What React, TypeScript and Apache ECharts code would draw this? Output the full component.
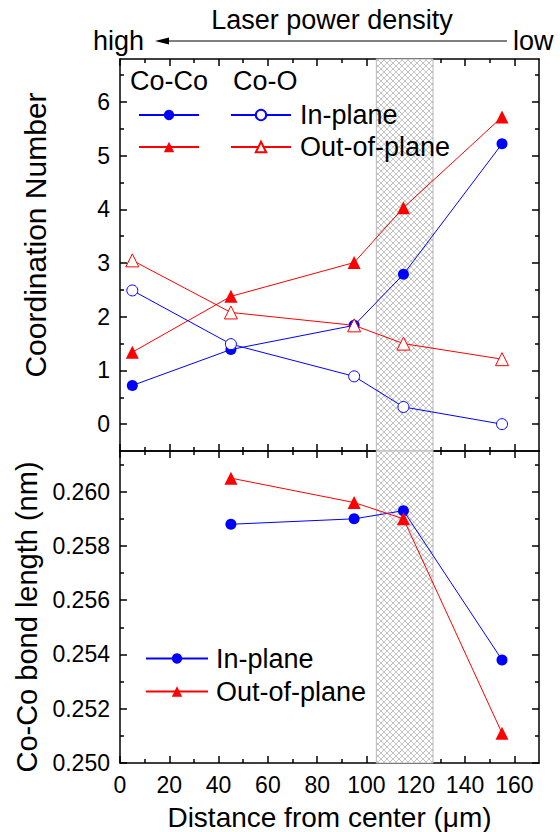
import React, { useEffect, useRef } from 'react';
import * as echarts from 'echarts';

// ---------- data ----------
const distances = [5, 45, 95, 115, 155];
const coCoInPlane = [0.72, 1.39, 1.84, 2.79, 5.22];
const coCoOutOfPlane = [1.34, 2.38, 3.01, 4.03, 5.72];
const coOInPlane = [2.49, 1.49, 0.89, 0.32, 0.0];
const coOOutOfPlane = [3.05, 2.08, 1.84, 1.5, 1.21];

const bondDistances = [45, 95, 115, 155];
const bondInPlane = [0.2588, 0.259, 0.2593, 0.2538];
const bondOutOfPlane = [0.2605, 0.2596, 0.259, 0.2511];

const shadedRange = [104, 127];

const xMajorTicks = [0, 20, 40, 60, 80, 100, 120, 140, 160];
const xMinorTicks = [10, 30, 50, 70, 90, 110, 130, 150];
const cnMajorTicks = [0, 1, 2, 3, 4, 5, 6];
const cnMinorTicks = [0.5, 1.5, 2.5, 3.5, 4.5, 5.5, 6.5];
const blMajorTicks = [0.25, 0.252, 0.254, 0.256, 0.258, 0.26];
const blMinorTicks = [0.251, 0.253, 0.255, 0.257, 0.259, 0.261];

const FONT = "'Liberation Sans', Arial, Helvetica, sans-serif";
const BLUE = '#0000ff';
const RED = '#ff0000';

const zip = (xs: number[], ys: number[]) => xs.map((x, i) => [x, ys[i]]);

const lineBlack = { color: '#000', width: 1.5 };

function axisPair(
  gridIndex: number,
  position: string,
  min: number,
  max: number,
  major: number[],
  minor: number[],
  label: any,
  nameOpts: any
) {
  const base: any = {
    type: 'value',
    gridIndex,
    position,
    min,
    max,
    splitLine: { show: false },
  };
  return [
    {
      ...base,
      axisLine: { show: true, onZero: false, lineStyle: lineBlack },
      axisTick: { show: true, inside: true, length: 7, customValues: major, lineStyle: lineBlack },
      axisLabel: label
        ? { show: true, customValues: major, color: '#000', fontFamily: FONT, fontSize: 23, ...label }
        : { show: false },
      ...(nameOpts || {}),
    },
    {
      ...base,
      axisLine: { show: false, onZero: false },
      axisTick: { show: true, inside: true, length: 4, customValues: minor, lineStyle: lineBlack },
      axisLabel: { show: false },
    },
  ];
}

export default function App() {
  const ref = useRef<HTMLDivElement>(null);

  useEffect(() => {
    document.body.style.margin = '0';
    if (!ref.current) return;
    const chart = echarts.init(ref.current, undefined, { renderer: 'svg' });

    const c = document.createElement('canvas');
    c.width = 6;
    c.height = 6;
    const ctx = c.getContext('2d')!;
    ctx.fillStyle = '#ffffff';
    ctx.fillRect(0, 0, 6, 6);
    ctx.strokeStyle = '#c4c4c4';
    ctx.lineWidth = 1;
    ctx.beginPath();
    ctx.moveTo(0, 0);
    ctx.lineTo(6, 6);
    ctx.moveTo(6, 0);
    ctx.lineTo(0, 6);
    ctx.stroke();
    const hatch: any = { image: c, repeat: 'repeat', imageWidth: 6, imageHeight: 6 };

    const xNameStyle = { color: '#000', fontFamily: FONT, fontSize: 28 };

    const xAxes = [
      // grid 0 (top panel) : 0 bottom main, 1 bottom minor, 2 top main, 3 top minor
      ...axisPair(0, 'bottom', 0, 170, xMajorTicks, xMinorTicks, null, null),
      ...axisPair(0, 'top', 0, 170, xMajorTicks, xMinorTicks, null, null),
      // grid 1 (bottom panel) : 4..7
      ...axisPair(1, 'bottom', 0, 170, xMajorTicks, xMinorTicks, { margin: 10 }, {
        name: 'Distance from center (\u03bcm)',
        nameLocation: 'middle',
        nameGap: 40,
        nameTextStyle: xNameStyle,
      }),
      ...axisPair(1, 'top', 0, 170, xMajorTicks, xMinorTicks, null, null),
    ];

    const yAxes = [
      ...axisPair(0, 'left', -0.5, 6.8, cnMajorTicks, cnMinorTicks, { margin: 10 }, {
        name: 'Coordination Number',
        nameLocation: 'middle',
        nameGap: 70,
        nameRotate: 90,
        nameTextStyle: { color: '#000', fontFamily: FONT, fontSize: 30, padding: [0, 0, 0, 40] },
      }),
      ...axisPair(0, 'right', -0.5, 6.8, cnMajorTicks, cnMinorTicks, null, null),
      ...axisPair(1, 'left', 0.25, 0.2615, blMajorTicks, blMinorTicks, {
        margin: 10,
        formatter: (v: number) => v.toFixed(3),
      }, {
        name: 'Co-Co bond length (nm)',
        nameLocation: 'middle',
        nameGap: 70,
        nameRotate: 90,
        nameTextStyle: { color: '#000', fontFamily: FONT, fontSize: 29, padding: [0, 20, 0, 0] },
      }),
      ...axisPair(1, 'right', 0.25, 0.2615, blMajorTicks, blMinorTicks, null, null),
    ];

    const markArea = (color: any) => ({
      silent: true,
      itemStyle: { color, borderColor: '#b8b8b8', borderWidth: 1 },
      data: [[{ xAxis: shadedRange[0] }, { xAxis: shadedRange[1] }]],
    });

    const filled = (name: string, data: number[][], color: string, symbol: string, size: number, xi: number, yi: number, extra: any = {}) => ({
      name,
      type: 'line',
      xAxisIndex: xi,
      yAxisIndex: yi,
      data,
      symbol,
      symbolSize: size,
      lineStyle: { color, width: 1 },
      itemStyle: { color },
      emphasis: { disabled: true },
      ...extra,
    });
    const hollow = (name: string, data: number[][], color: string, symbol: string, size: number, xi: number, yi: number) => ({
      name,
      type: 'line',
      xAxisIndex: xi,
      yAxisIndex: yi,
      data,
      symbol,
      symbolSize: size,
      lineStyle: { color, width: 1 },
      itemStyle: { color: '#ffffff', borderColor: color, borderWidth: 1 },
      emphasis: { disabled: true },
    });

    const series = [
      filled('Co-Co In-plane', zip(distances, coCoInPlane), BLUE, 'circle', 11, 0, 0, { markArea: markArea(hatch) }),
      filled('Co-Co Out-of-plane', zip(distances, coCoOutOfPlane), RED, 'triangle', 13, 0, 0),
      hollow('Co-O In-plane', zip(distances, coOInPlane), BLUE, 'circle', 11, 0, 0),
      hollow('Co-O Out-of-plane', zip(distances, coOOutOfPlane), RED, 'triangle', 13, 0, 0),
      filled('In-plane', zip(bondDistances, bondInPlane), BLUE, 'circle', 11, 4, 4, { markArea: markArea(hatch) }),
      filled('Out-of-plane', zip(bondDistances, bondOutOfPlane), RED, 'triangle', 13, 4, 4),
    ];

    const legendText = { color: '#000', fontFamily: FONT, fontSize: 27, lineHeight: 32 };

    chart.setOption({
      animation: false,
      backgroundColor: '#ffffff',
      grid: [
        { left: 120, right: 21, top: 59, height: 392, containLabel: false },
        { left: 120, right: 21, top: 451, height: 312, containLabel: false },
      ],
      xAxis: xAxes,
      yAxis: yAxes,
      legend: [
        {
          data: ['Co-Co In-plane', 'Co-Co Out-of-plane'],
          orient: 'vertical',
          left: 133,
          top: 94,
          itemWidth: 60,
          itemHeight: 13,
          itemGap: 0,
          selectedMode: false,
          formatter: () => ' ',
          textStyle: legendText,
        },
        {
          data: ['Co-O In-plane', 'Co-O Out-of-plane'],
          orient: 'vertical',
          left: 225,
          top: 94,
          itemWidth: 60,
          itemHeight: 13,
          itemGap: 0,
          selectedMode: false,
          formatter: (n: string) => n.replace('Co-O ', ''),
          textStyle: { ...legendText, padding: [0, 0, 0, 4] },
        },
        {
          data: ['In-plane', 'Out-of-plane'],
          orient: 'vertical',
          left: 140,
          top: 637,
          itemWidth: 62,
          itemHeight: 13,
          itemGap: 0,
          selectedMode: false,
          textStyle: { ...legendText, lineHeight: 33, padding: [0, 0, 0, 3] },
        },
      ],
      graphic: [
        { type: 'text', left: 130, top: 67, style: { text: 'Co-Co', fontSize: 27, fontFamily: FONT, fill: '#000' } },
        { type: 'text', left: 233, top: 67, style: { text: 'Co-O', fontSize: 27, fontFamily: FONT, fill: '#000' } },
        { type: 'text', x: 332, y: 20, style: { text: 'Laser power density', fontSize: 27, fontFamily: FONT, fill: '#000', align: 'center', verticalAlign: 'middle' } },
        { type: 'text', x: 93, y: 41, style: { text: 'high', fontSize: 27, fontFamily: FONT, fill: '#000', align: 'left', verticalAlign: 'middle' } },
        { type: 'text', x: 513, y: 41, style: { text: 'low', fontSize: 27, fontFamily: FONT, fill: '#000', align: 'left', verticalAlign: 'middle' } },
        { type: 'line', shape: { x1: 165, y1: 41, x2: 507, y2: 41 }, style: { stroke: '#000', lineWidth: 1 } },
        { type: 'polygon', shape: { points: [[155, 41], [169, 37.5], [169, 44.5]] }, style: { fill: '#000' } },
      ],
      series,
    });

    return () => chart.dispose();
  }, []);

  return <div ref={ref} style={{ width: 560, height: 832 }} />;
}
